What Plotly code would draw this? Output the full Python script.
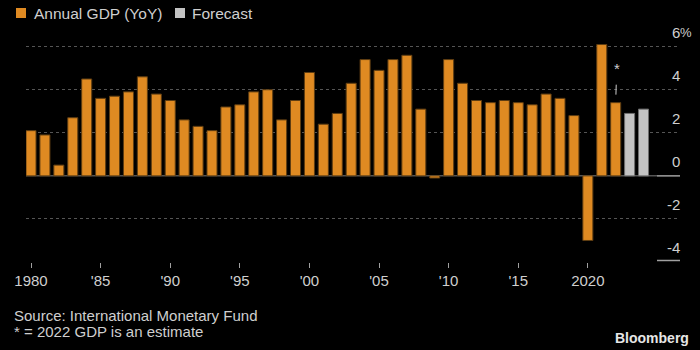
import plotly.graph_objects as go

# ---- data ----
years = list(range(1980, 2023))
gdp = [2.1, 1.9, 0.5, 2.7, 4.5, 3.6, 3.7, 3.9, 4.6, 3.8,
       3.5, 2.6, 2.3, 2.1, 3.2, 3.3, 3.9, 4.0, 2.6, 3.5,
       4.8, 2.4, 2.9, 4.3, 5.4, 4.9, 5.4, 5.6, 3.1, -0.1,
       5.4, 4.3, 3.5, 3.4, 3.5, 3.4, 3.3, 3.8, 3.6, 2.8,
       -3.0, 6.1, 3.4]
forecast_years = [2023, 2024]
forecast = [2.9, 3.1]

x_tickvals = [1980, 1985, 1990, 1995, 2000, 2005, 2010, 2015, 2020]
x_ticktext = ["1980", "'85", "'90", "'95", "'00", "'05", "'10", "'15", "2020"]
y_labels = [-4, -2, 0, 2, 4, 6]
grid_vals = [-2, 2, 4, 6]

series_names = ["Annual GDP (YoY)", "Forecast"]
source_lines = ["Source: International Monetary Fund", "* = 2022 GDP is an estimate"]
estimate_year = 2022

# ---- styling / layout ----
W, H = 700, 350
ML, MR, MT, MB = 26, 20, 40, 88
PW, PH = W - ML - MR, H - MT - MB
FONT = "Liberation Sans, Arial, sans-serif"
TXT = "#cfcfcf"
ORANGE = "#DF8A22"
GRAY = "#C3C3C3"


def px(x):
    return (x - ML) / PW


def py(y):
    return (H - MB - y) / PH


fig = go.Figure()
fig.add_trace(go.Bar(x=years, y=gdp, width=0.72, name=series_names[0],
                     marker=dict(color=ORANGE, line=dict(color="#5e3d12", width=1))))
fig.add_trace(go.Bar(x=forecast_years, y=forecast, width=0.72, name=series_names[1],
                     marker=dict(color=GRAY, line=dict(color="#6e6e6e", width=1))))

shapes = []
xb = px(657)
shapes.append(dict(type="line", xref="paper", yref="y", x0=0, x1=xb, y0=0, y1=0,
                   line=dict(color="#555555", width=1.5), layer="below"))
shapes.append(dict(type="line", xref="paper", yref="y", x0=xb, x1=1, y0=0, y1=0,
                   line=dict(color="#a0a0a0", width=1.5)))
shapes.append(dict(type="line", xref="paper", yref="y", x0=xb, x1=1, y0=-3.93, y1=-3.93,
                   line=dict(color="#a0a0a0", width=1.5)))
# legend squares
for x0, col in [(16, ORANGE), (175, GRAY)]:
    shapes.append(dict(type="rect", xref="paper", yref="paper",
                       x0=px(x0), x1=px(x0 + 10), y0=py(8), y1=py(18),
                       fillcolor=col, line=dict(width=0)))

ann = []
for v in y_labels:
    ann.append(dict(xref="paper", yref="y", x=px(682), y=v, yshift=14.5,
                    xanchor="right", yanchor="middle", showarrow=False,
                    text=str(v), font=dict(family=FONT, size=15, color=TXT)))
    if v == max(y_labels):
        ann.append(dict(xref="paper", yref="y", x=px(678), y=v, yshift=14.5,
                        xanchor="left", yanchor="middle", showarrow=False,
                        text="%", font=dict(family=FONT, size=13, color=TXT)))
# legend texts
for x0, t in [(32, series_names[0]), (190, series_names[1])]:
    ann.append(dict(xref="paper", yref="paper", x=px(x0), y=py(13.5),
                    xanchor="left", yanchor="middle", showarrow=False,
                    text=t, font=dict(family=FONT, size=15.5, color=TXT)))
# source
for i, t in enumerate(source_lines):
    ann.append(dict(xref="paper", yref="paper", x=px(12), y=py(315 + 16 * i),
                    xanchor="left", yanchor="middle", showarrow=False,
                    text=t, font=dict(family=FONT, size=15, color=TXT)))
ann.append(dict(xref="paper", yref="paper", x=px(691), y=py(338),
                xanchor="right", yanchor="middle", showarrow=False,
                text="<b>Bloomberg</b>",
                font=dict(family="Liberation Sans, Arial", size=14, color="#e6e6e6")))
# asterisk
ann.append(dict(x=estimate_year, y=gdp[years.index(estimate_year)], xref="x", yref="y",
                text="*", showarrow=True, axref="pixel", ayref="pixel", ax=1, ay=-34,
                arrowhead=0, arrowwidth=1, arrowcolor=TXT, standoff=8, startstandoff=6,
                font=dict(family=FONT, size=15, color=TXT)))

fig.update_layout(
    width=W, height=H, margin=dict(l=ML, r=MR, t=MT, b=MB),
    paper_bgcolor="black", plot_bgcolor="black",
    showlegend=False, barmode="overlay",
    shapes=shapes, annotations=ann,
    xaxis=dict(range=[1979.64, 2026.62], tickvals=x_tickvals, ticktext=x_ticktext,
               ticks="outside", ticklen=5, tickcolor="#a0a0a0", tickwidth=1,
               showgrid=False, zeroline=False, showline=False,
               tickfont=dict(family=FONT, size=15, color=TXT)),
    yaxis=dict(range=[-4, 6.31], tickvals=grid_vals, showticklabels=False,
               showgrid=True, gridcolor="#555555", griddash="dot", gridwidth=1,
               zeroline=False, showline=False),
)

fig.write_html("out.html")
